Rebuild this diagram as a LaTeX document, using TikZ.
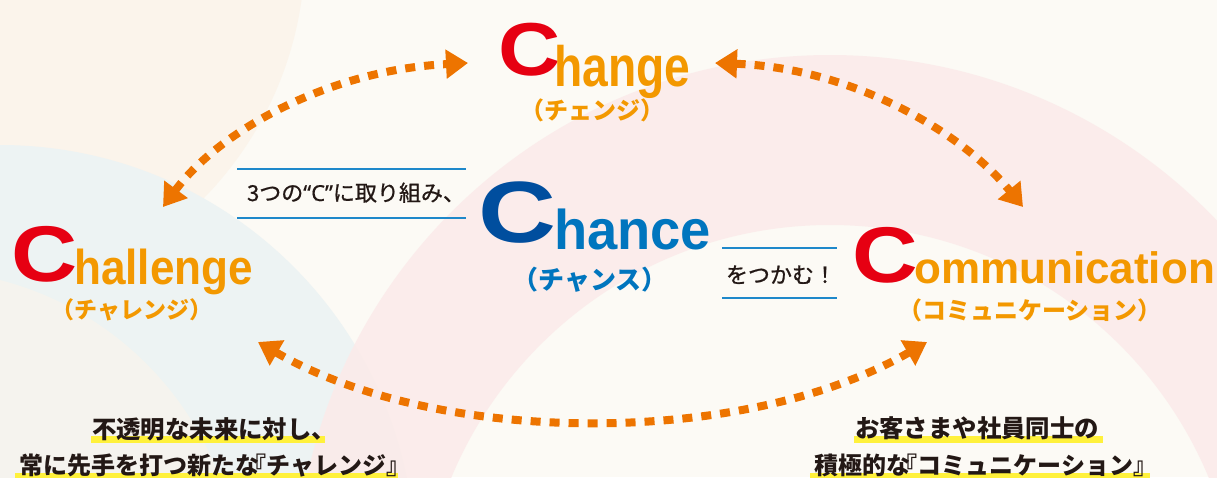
\documentclass[tikz,border=0pt]{standalone}
\usepackage{fontspec}
\usepackage{graphicx}
\setmainfont{Liberation Sans}
\newfontfamily\jp{Noto Sans CJK JP}
\newfontfamily\jpmed{Noto Sans CJK JP}[FakeBold=0.8]
\newfontfamily\qf{Noto Sans}[FakeBold=0.5]
\usetikzlibrary{arrows.meta}
\definecolor{bgc}{RGB}{252,250,245}
\definecolor{peachc}{RGB}{251,244,235}
\definecolor{bluec}{RGB}{237,243,243}
\definecolor{pinkc}{RGB}{251,235,234}
\definecolor{cred}{RGB}{230,0,18}
\definecolor{corange}{RGB}{243,152,0}
\definecolor{cdblue}{RGB}{0,78,158}
\definecolor{cblue}{RGB}{0,117,190}
\definecolor{lineblue}{RGB}{30,136,202}
\definecolor{arrowc}{RGB}{237,116,0}
\definecolor{hlyellow}{RGB}{255,241,60}
\definecolor{ink}{RGB}{35,24,21}
\newcommand\setfs[1]{\fontsize{#1}{#1}\selectfont}
\tikzset{
  bigletter/.style={anchor=base west, inner sep=0pt, font=\bfseries},
  sublabel/.style={anchor=base, inner sep=0pt, font=\jp\bfseries},
  boxlabel/.style={anchor=base, inner sep=0pt, text=ink, font=\jpmed},
  bottomtext/.style={anchor=base, inner sep=0pt, text=ink, font=\jp\bfseries},
  boxline/.style={draw=lineblue, line width=1.8pt},
  hlbar/.style={fill=hlyellow},
  cycarrow/.style={draw=arrowc, line width=8pt, dash pattern=on 10pt off 9pt,
    {Triangle[length=22pt,width=28pt]}-{Triangle[length=22pt,width=28pt]}},
}
\begin{document}
\begin{tikzpicture}[x=1pt,y=-1pt]
\useasboundingbox (0,0) rectangle (1217,477);
% background
\begin{scope}
\clip (0,0) rectangle (1217,477);
\fill[bgc] (0,0) rectangle (1217,477);
\fill[peachc] (-50,-50) circle[radius=355pt];
\fill[bluec] (0,560) circle[radius=415pt];
\fill[peachc, opacity=0.6] (-80,590) circle[radius=320pt];
\fill[pinkc, opacity=0.9, even odd rule] (830,590) circle[radius=535pt] (830,635) circle[radius=410pt];
\end{scope}
% highlight bars
\fill[hlbar] (91,436) rectangle (325,443);
\fill[hlbar] (15,473) rectangle (398,481);
\fill[hlbar] (854,436) rectangle (1103,443);
\fill[hlbar] (810,473) rectangle (1150,481);
% Change
\node[bigletter, text=cred] (chgC) at (498.5,75) {\scalebox{1.15}[1]{\setfs{75}C}};
\node[bigletter, text=corange] (chgR) at (554,86) {\scalebox{0.81}[1]{\setfs{57}hange}};
\node[sublabel, text=corange] (chgS) at (592,119) {\setfs{24}（チェンジ）};
% Chance
\node[bigletter, text=cdblue] (chnC) at (478,242) {\scalebox{1.24}[1]{\setfs{87}C}};
\node[bigletter, text=cblue] (chnR) at (554,249) {\scalebox{0.97}[1]{\setfs{56}hance}};
\node[sublabel, text=cblue] (chnS) at (590,289.4) {\setfs{26}（チャンス）};
% Challenge
\node[bigletter, text=cred] (chlC) at (11,281) {\scalebox{1.16}[1]{\setfs{79}C}};
\node[bigletter, text=corange] (chlR) at (74,284) {\scalebox{0.90}[1]{\setfs{49}hallenge}};
\node[sublabel, text=corange] (chlS) at (132,318) {\setfs{23}（チャレンジ）};
% Communication
\node[bigletter, text=cred] (comC) at (852,282) {\scalebox{1.15}[1]{\setfs{79}C}};
\node[bigletter, text=corange] (comR) at (914,283) {\setfs{44}ommunication};
\node[sublabel, text=corange] (comS) at (1030,319) {\setfs{24}（コミュニケーション）};
% box labels
\node[boxlabel] (lab1) at (356,201) {\setfs{22}3つの{\qf “C”}に取り組み、};
\draw[boxline] (237,169) -- (466,169);
\draw[boxline] (237,218) -- (466,218);
\node[boxlabel] (lab2) at (781,283) {\setfs{22}をつかむ！};
\draw[boxline] (722,248) -- (837,248);
\draw[boxline] (722,298) -- (837,298);
% bottom texts
\node[bottomtext] (bl1) at (214,438) {\setfs{24.4}不透明な未来に対し、};
\node[bottomtext] (bl2) at (214.5,474) {\setfs{24}常に先手を打つ新たな\kern-0.7em『チャレンジ』};
\node[bottomtext] (br1) at (977,437) {\setfs{24.4}お客さまや社員同士の};
\node[bottomtext] (br2) at (986,474) {\setfs{24}積極的な\kern-0.7em『コミュニケーション』};
% arrow end points
\coordinate (tChgL) at (468,63);
\coordinate (tChlU) at (163,207);
\coordinate (tChgR) at (715,63);
\coordinate (tComU) at (1023,207);
\coordinate (tChlD) at (258,342);
\coordinate (tComD) at (927,342);
\draw[cycarrow] (tChlU) .. controls (220,130) and (330,70) .. (tChgL);
\draw[cycarrow] (tChgR) .. controls (850,68) and (960,130) .. (tComU);
\draw[cycarrow] (tChlD) .. controls (440,447) and (745,447) .. (tComD);
\end{tikzpicture}
\end{document}
